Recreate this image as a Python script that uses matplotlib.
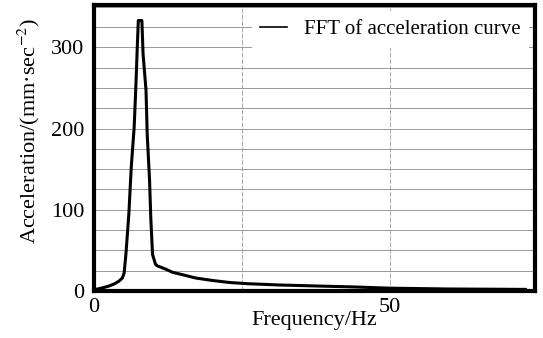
import matplotlib.pyplot as plt
from matplotlib.ticker import MultipleLocator

# FFT of acceleration curve
freq = [0, 0.3, 1.5, 2.5, 3.5, 4.2, 4.8, 5.1, 5.4, 5.9, 6.3, 6.8, 7.1, 7.3, 7.5,
        8.1, 8.3, 8.8, 9.0, 9.4, 9.6, 9.9, 10.4, 10.7, 12.1, 13.3, 15, 17.2, 20,
        22.9, 26, 31.4, 37.6, 44, 50, 60, 72.9]
amp = [2, 2, 4, 6, 9, 12, 16, 22, 45, 95, 152, 202, 255, 296, 333,
       333, 292, 247, 193, 136, 91, 45, 33, 31, 27, 23, 20, 16, 13,
       10.5, 9, 7.4, 6.2, 5, 3.5, 2.5, 2]

x_ticks = [0, 50]
y_ticks = [0, 100, 200, 300]

plt.rcParams['font.family'] = ['Liberation Serif', 'DejaVu Serif']
plt.rcParams['mathtext.fontset'] = 'stix'

fig = plt.figure(figsize=(5.43, 3.38), dpi=100)
ax = fig.add_axes([0.173, 0.139, 0.812, 0.846])

ax.plot(freq, amp, color='black', linewidth=2.2, label='FFT of acceleration curve')

ax.set_xlim(0, 74.5)
ax.set_ylim(0, 352)
ax.set_xticks(x_ticks)
ax.set_yticks(y_ticks)
ax.xaxis.set_minor_locator(MultipleLocator(25))
ax.yaxis.set_minor_locator(MultipleLocator(25))
ax.tick_params(which='both', length=0, labelsize=16)
ax.tick_params(axis='y', pad=7)
ax.tick_params(axis='x', pad=5)

ax.grid(True, axis='y', which='both', color='#999999', linewidth=0.7)
ax.grid(True, axis='x', which='both', color='#aaaaaa', linewidth=0.7, linestyle=(0, (5, 1.5)))
ax.set_axisbelow(True)

for s in ax.spines.values():
    s.set_linewidth(3)

ax.set_xlabel('Frequency/Hz', fontsize=16, labelpad=-4)
ax.set_ylabel('Acceleration/(mm·sec$^{-2}$)', fontsize=16)
ax.yaxis.set_label_coords(-0.118, 0.56)

leg = ax.legend(loc='upper right', fontsize=15, frameon=True, handlelength=1.3,
                borderaxespad=0.3, fancybox=False)
leg.get_frame().set_edgecolor('none')
leg.get_frame().set_facecolor('white')
leg.get_frame().set_alpha(1)
leg.get_lines()[0].set_linewidth(1.2)

plt.savefig('out.png', dpi=100)
